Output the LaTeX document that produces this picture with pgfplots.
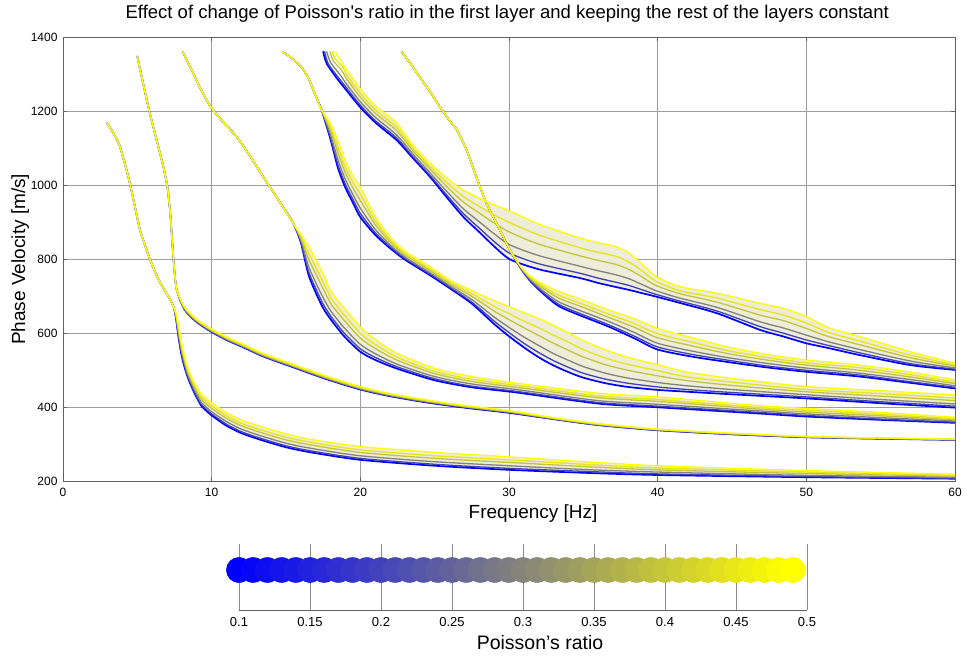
\documentclass[border=0pt]{standalone}
\usepackage{fontspec}
\setmainfont{Liberation Sans}
\usepackage{pgfplots}
\usepackage{pgfplotstable}
\usepgfplotslibrary{fillbetween}
\pgfplotsset{compat=1.18}

% line colours for Poisson's ratio 0.10 ... 0.49 (blue -> yellow)
\definecolor{nu10}{rgb}{0,0,1}
\definecolor{nu20}{rgb}{0.256,0.256,0.744}
\definecolor{nu30}{rgb}{0.513,0.513,0.487}
\definecolor{nu40}{rgb}{0.769,0.769,0.231}
\definecolor{nu45}{rgb}{0.897,0.897,0.103}
\definecolor{nu49}{rgb}{1,1,0}
\definecolor{bandfill}{rgb}{0.93,0.93,0.85}

% dispersion curves, one column per Poisson's ratio of the first layer
\pgfplotstableread{
x v10 v20 v30 v40 v45 v49
2.98 1168 1168 1168 1168 1168 1168
3.4 1140 1140 1140 1140 1140 1140
3.79 1109 1109 1109 1109 1109 1109
4.15 1060 1060 1060 1060 1060 1060
4.5 1005 1005 1005 1005 1005 1005
4.85 940 940 940 940 940 940
5.18 879 879 879 879 879 879
5.5 840 840 840 840 840 840
5.85 800 800 800 800 800 800
6.2 765 765 765 765 765 765
6.52 738 738 738 738 738 738
6.9 712 712 712 712 712 712
7.2 692 692 692 692 692 692
7.45 670 670 670 670 670 670
7.6 640 642 645 648 651 655
7.75 595 599 604 612 619 626
7.9 557 561 567 575 582 590
8.05 527 531 537 545 552 560
8.2 505 509 514 522 528 535
8.4 480 483 488 494 499 505
8.6 460 463 468 475 480 486
8.8 442 445 450 457 462 468
9.0 426 429 435 442 448 455
9.3 404 408 413 421 428 435
9.6 392 396 402 410 417 425
10 378 382 388 397 404 412
11 350 354 361 370 377 385
12 330 334 341 350 357 365
13.3 312 316 323 332 339 348
15 292 296 303 312 319 328
16.7 278 282 289 298 305 313
20 258 262 269 278 285 294
25 242 246 253 262 269 278
30 231 235 242 251 258 266
35 223 227 232 240 246 253
40 217 220 225 231 236 242
50 211 213 216 221 225 229
60 207 208 211 214 216 219
}\modeA

\pgfplotstableread{
x v10 v20 v30 v40 v45 v49
5.0 1348 1348 1348 1348 1348 1348
5.74 1212 1212 1212 1212 1212 1212
6.3 1122 1122 1122 1122 1122 1122
6.75 1050 1050 1050 1050 1050 1050
7.02 996 996 996 996 996 996
7.2 930 930 930 930 930 930
7.31 870 870 870 870 870 870
7.43 800 800 800 800 800 800
7.53 753 753 753 753 753 753
7.65 717 717 717 717 717 717
8.0 678 679 680 681 682 683
8.32 656 657 658 660 662 664
9.0 630 631 632 634 636 638
9.89 606 607 608 610 612 614
11 582 583 584 586 588 590
12.13 562 563 564 566 568 570
13.5 537 538 539 541 543 545
15.49 508 509 510 512 514 516
17.73 476 477 478 480 482 484
20 448 449 450 452 454 456
22 430 431 432 434 435 437
24.46 413 414 415 417 418 420
27 399 400 401 402 404 405
30 385 386 387 388 390 391
33 368 368 369 370 371 372
36 352 352 353 354 355 356
40 338 338 339 340 340 341
45 327 327 328 329 329 330
50 319 319 320 320 321 321
55 315 315 316 316 317 317
60 312 312 313 313 314 314
}\modeB

\pgfplotstableread{
x v10 v20 v30 v40 v45 v49
8.05 1361 1361 1361 1361 1361 1361
8.4 1332 1332 1332 1332 1332 1332
8.76 1303 1303 1303 1303 1303 1303
9.2 1265 1265 1265 1265 1265 1265
9.66 1230 1230 1230 1230 1230 1230
10.0 1208 1208 1208 1208 1208 1208
10.8 1170 1170 1170 1170 1170 1170
11.68 1131 1131 1131 1131 1131 1131
12.6 1078 1078 1078 1078 1078 1078
13.47 1023 1023 1023 1023 1023 1023
14.5 960 960 960 960 960 960
15.49 897 897 897 897 897 897
16.0 845 848 852 857 862 867
16.5 760 769 783 803 818 836
17.0 710 721 737 761 779 800
17.5 668 679 696 720 738 760
18.0 638 647 661 681 697 715
18.5 612 621 635 655 670 688
19 588 597 611 631 646 664
20 550 558 570 587 600 617
21 528 535 545 559 570 583
22.5 504 509 516 527 535 545
25 473 477 483 491 497 505
27.5 454 457 463 470 476 483
30.5 440 443 448 454 459 465
36 410 413 418 426 431 438
40 400 403 408 416 421 428
46.9 383 386 390 395 399 404
50 375 378 382 387 392 397
55 366 368 372 377 381 386
60 358 360 363 366 369 373
}\modeC

\pgfplotstableread{
x v10 v20 v30 v40 v45 v49
14.77 1361 1361 1361 1361 1361 1361
15.4 1343 1343 1343 1343 1343 1343
16.0 1321 1321 1321 1321 1321 1321
16.5 1290 1290 1290 1290 1290 1290
16.83 1258 1258 1258 1258 1258 1258
17.1 1232 1232 1232 1232 1232 1232
17.4 1203 1203 1203 1203 1203 1203
18 1123 1128 1136 1147 1156 1166
18.5 1046 1055 1068 1087 1102 1120
19 993 1002 1015 1033 1048 1065
19.5 953 962 975 993 1008 1025
20 914 924 938 959 976 995
21 866 872 881 894 904 916
22 830 834 839 847 853 860
23 799 802 806 812 816 822
24.68 757 760 764 770 774 780
26 722 725 729 734 739 744
27.5 680 684 691 700 707 715
29 625 633 644 660 673 688
30 592 602 616 637 653 672
31 562 573 590 615 633 656
32 535 548 567 594 615 640
33 513 526 545 573 595 621
34 495 508 527 554 576 601
35 480 492 510 536 556 580
36.5 465 476 492 515 533 555
38 455 465 479 500 516 535
40 447 455 467 485 499 515
42 442 448 458 472 482 495
45 435 440 448 459 468 478
50 424 428 434 442 448 456
55 411 415 421 430 437 445
60 399 403 409 418 425 433
}\modeD

% upper start of the fourth branch: each ratio begins at its own frequency
\pgfplotstableread{
x10 y10 x20 y20 x30 y30 x40 y40 x45 y45 x49 y49
17.5 1361 17.6 1361 17.74 1361 17.95 1361 18.1 1361 18.3 1361
17.75 1328 17.85 1328 18.0 1332 18.2 1336 18.35 1340 18.55 1345
18.5 1285 18.55 1290 18.65 1298 18.75 1310 18.85 1318 18.8 1330
19 1260 19 1267 19 1277 19 1292 19 1303 19 1317
}\modeEtop

\pgfplotstableread{
x v10 v20 v30 v40 v45 v49
19 1260 1267 1277 1292 1303 1317
19.97 1212 1218 1227 1240 1250 1262
21 1170 1175 1184 1195 1204 1215
22.44 1122 1128 1136 1148 1157 1168
23.5 1075 1079 1086 1095 1102 1110
24.68 1023 1027 1034 1044 1051 1060
25.8 968 974 984 997 1008 1020
26.92 915 924 937 955 970 987
28.04 872 883 900 924 942 964
29 835 848 869 898 920 947
30.06 800 816 839 873 899 930
32 773 788 810 841 866 895
34.8 749 762 781 809 831 857
36 736 749 769 797 819 845
37.2 725 738 758 786 808 834
38.1 717 729 747 772 792 816
39 708 717 731 751 767 785
39.9 699 705 715 729 740 753
41.5 682 687 695 707 715 726
44 654 660 670 684 695 708
46.9 609 618 631 649 664 681
48.4 592 601 615 635 650 668
50 573 582 595 613 628 645
51.5 560 567 577 591 602 615
53.6 541 547 556 569 579 591
57 514 518 525 534 541 550
60 501 503 506 511 515 519
}\modeE

\pgfplotstableread{
x v10 v20 v30 v40 v45 v49
22.78 1361 1361 1361 1361 1361 1361
23.4 1327 1327 1327 1327 1327 1327
24.0 1293 1293 1293 1293 1293 1293
24.7 1252 1252 1252 1252 1252 1252
25.35 1212 1212 1212 1212 1212 1212
26.0 1175 1175 1175 1175 1175 1175
26.5 1149 1149 1149 1149 1149 1149
27.15 1095 1095 1095 1095 1095 1095
27.8 1023 1023 1023 1023 1023 1023
28.49 951 951 951 951 951 951
29.39 879 879 879 879 879 879
30.06 825 825 825 825 825 825
30.8 775 776 777 778 779 780
31.5 738 740 742 746 749 752
32.5 700 703 708 716 721 728
33.4 672 677 684 694 702 712
34.8 648 653 661 673 681 692
36.7 618 623 632 643 652 663
38.5 585 591 601 615 625 638
40 556 563 573 588 599 613
42.3 537 543 552 566 576 588
44.6 523 528 535 546 554 564
47.3 508 512 519 528 535 543
50 496 500 506 514 520 528
53.6 483 487 492 500 507 514
57 466 469 475 482 488 495
60 451 454 458 464 468 474
}\modeF

% Poisson's ratio sampled in the colour legend
\pgfplotstableread{
nu y
0.10 0.606
0.11 0.606
0.12 0.606
0.13 0.606
0.14 0.606
0.15 0.606
0.16 0.606
0.17 0.606
0.18 0.606
0.19 0.606
0.20 0.606
0.21 0.606
0.22 0.606
0.23 0.606
0.24 0.606
0.25 0.606
0.26 0.606
0.27 0.606
0.28 0.606
0.29 0.606
0.30 0.606
0.31 0.606
0.32 0.606
0.33 0.606
0.34 0.606
0.35 0.606
0.36 0.606
0.37 0.606
0.38 0.606
0.39 0.606
0.40 0.606
0.41 0.606
0.42 0.606
0.43 0.606
0.44 0.606
0.45 0.606
0.46 0.606
0.47 0.606
0.48 0.606
0.49 0.606
}\ratios

\pgfplotsset{
  curve/.style={no markers, line width=1.3bp, line join=round, line cap=round, smooth, tension=0.45},
}

% all branches for one value of the ratio
\newcommand\drawlevel[2]{%
  \addplot[curve,#2] table[x=x,y=v#1]{\modeA};
  \addplot[curve,#2] table[x=x,y=v#1]{\modeB};
  \addplot[curve,#2] table[x=x,y=v#1]{\modeC};
  \addplot[curve,#2] table[x=x,y=v#1]{\modeD};
  \addplot[curve,#2] table[x=x#1,y=y#1]{\modeEtop};
  \addplot[curve,#2] table[x=x,y=v#1]{\modeE};
  \addplot[curve,#2] table[x=x,y=v#1]{\modeF};
}

% pale band between the lowest and highest ratio of one branch
\newcommand\band[2]{%
  \addplot[curve, draw=none, forget plot, name path=#2lo] table[x=x,y=v10]{#1};
  \addplot[curve, draw=none, forget plot, name path=#2hi] table[x=x,y=v49]{#1};
  \addplot[fill=bandfill, draw=none, forget plot] fill between[of=#2lo and #2hi];
}

\begin{document}
\begin{tikzpicture}

\begin{axis}[
  at={(63bp,176.7bp)}, anchor=south west,
  width=892bp, height=444bp, scale only axis,
  xmin=0, xmax=60, ymin=200, ymax=1400,
  xtick={0,10,...,60}, ytick={200,400,...,1400},
  grid=major,
  major grid style={draw=black!38, line width=0.6bp},
  axis line style={draw=black!62, line width=0.8bp},
  tick style={draw=black!62, line width=0.6bp},
  tick align=inside, major tick length=4bp,
  tick label style={font=\fontsize{12bp}{14bp}\selectfont},
  xticklabel style={yshift=-3bp},
  yticklabel style={xshift=-2bp},
  /pgf/number format/assume math mode=true,
  /pgf/number format/1000 sep={},
  title={Effect of change of Poisson\textquotesingle s ratio in the first layer and keeping the rest of the layers constant},
  title style={at={(axis description cs:0.498,1.0387)}, anchor=center, yshift=0pt, font=\fontsize{18.5bp}{21bp}\selectfont},
  xlabel={Frequency [Hz]},
  xlabel style={at={(axis description cs:0.527,-0.0735)}, anchor=center, font=\fontsize{19bp}{22bp}\selectfont},
  ylabel={Phase Velocity [m/s]},
  ylabel style={at={(axis description cs:-0.048,0.5)}, anchor=center, font=\fontsize{19bp}{22bp}\selectfont},
]
\band{\modeA}{bandA}
\band{\modeC}{bandC}
\band{\modeD}{bandD}
\band{\modeE}{bandE}
\band{\modeF}{bandF}
\drawlevel{10}{nu10, line width=1.7bp}
\drawlevel{20}{nu20}
\drawlevel{30}{nu30}
\drawlevel{40}{nu40}
\drawlevel{45}{nu45}
\drawlevel{49}{nu49}
\end{axis}

\begin{axis}[
  at={(239bp,48bp)}, anchor=south west,
  width=568bp, height=66bp, scale only axis,
  xmin=0.1, xmax=0.5, ymin=0, ymax=1,
  axis x line*=bottom, axis y line=none,
  xtick={0.1,0.15,0.2,0.25,0.3,0.35,0.4,0.45,0.5},
  xticklabels={0.1,0.15,0.2,0.25,0.3,0.35,0.4,0.45,0.5},
  xmajorgrids,
  major grid style={draw=black!45, line width=0.6bp},
  axis line style={draw=black!62, line width=0.8bp},
  major tick length=0pt,
  tick label style={font=\fontsize{13bp}{15bp}\selectfont},
  xticklabel style={yshift=-4bp},
  xlabel={Poisson's ratio},
  xlabel style={at={(axis description cs:0.53,-0.5)}, anchor=center, font=\fontsize{19.5bp}{22bp}\selectfont},
  clip=false,
  colormap={blueyellow}{rgb=(0,0,1) rgb=(1,1,0)},
  point meta min=0.1, point meta max=0.49,
]
\addplot[scatter, only marks, mark=*, mark size=12.7bp, point meta=x,
  scatter/use mapped color={draw=mapped color, fill=mapped color}]
  table[x=nu,y=y]{\ratios};
\end{axis}

% page frame
\pgfresetboundingbox
\useasboundingbox (0,0) rectangle (968bp,658bp);
\end{tikzpicture}
\end{document}
